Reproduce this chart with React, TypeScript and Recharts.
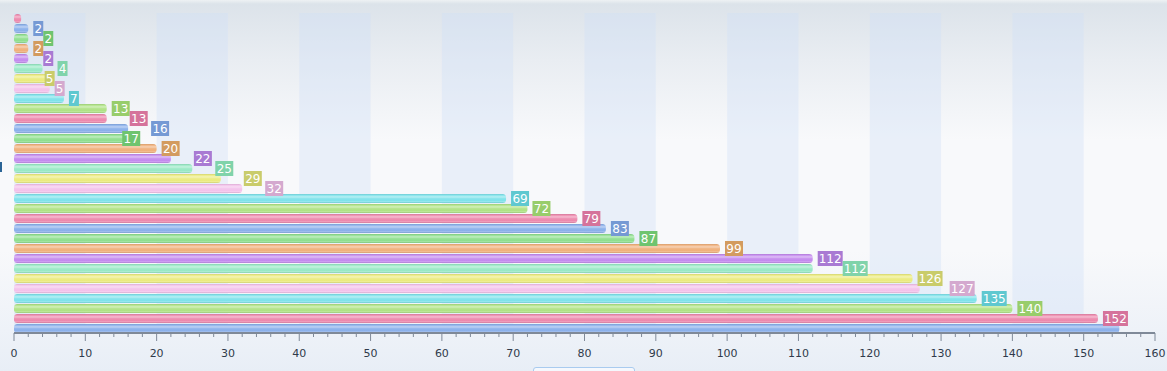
import React from "react";
import { Bar, BarChart, LabelList, ReferenceArea, XAxis, YAxis } from "recharts";

// values top to bottom
const values = [
  1, 2, 2, 2, 2, 4, 5, 5, 7, 13, 13, 16, 17, 20, 22, 25, 29, 32, 69, 72, 79, 83, 87, 99, 112, 112,
  126, 127, 135, 140, 152, 155,
];
const categories = values.map((_, i) => `Item ${i + 1}`);
const majorTicks = [0, 10, 20, 30, 40, 50, 60, 70, 80, 90, 100, 110, 120, 130, 140, 150, 160];

const barColors = [
  "#ec86ab", "#88aeea", "#8cde8c", "#efae78", "#c388ee",
  "#96e8c4", "#eaea7c", "#f3c0ea", "#7ce2ea", "#ade282",
];
const labelColors = [
  "#d5739b", "#7599d4", "#6fc46f", "#d39b5f", "#a97ad3",
  "#80d3aa", "#c9cc6b", "#d4a9cf", "#5fc8d0", "#98cd6b",
];

const rows = categories.map((name, i) => ({ name, value: values[i], idx: i }));

// minor ticks every 2 between the majors
const xTicks: number[] = [];
majorTicks.forEach((t, i) => {
  xTicks.push(t);
  const next = majorTicks[i + 1];
  if (next !== undefined) for (let m = t + 2; m < next; m += 2) xTicks.push(m);
});

// shaded columns 0-10, 20-30, ...
const bands: [number, number][] = [];
for (let i = 0; i + 1 < majorTicks.length; i += 2) bands.push([majorTicks[i], majorTicks[i + 1]]);

const AXIS = "#7f8998";
const FONT = "'DejaVu Sans', Verdana, sans-serif";

function mix(hex: string, target: string, t: number) {
  const a = parseInt(hex.slice(1), 16);
  const b = parseInt(target.slice(1), 16);
  const ch = (s: number) => {
    const ca = (a >> s) & 255;
    const cb = (b >> s) & 255;
    return Math.round(ca + (cb - ca) * t);
  };
  return `rgb(${ch(16)},${ch(8)},${ch(0)})`;
}

function labelWidth(v: number) {
  return Math.round(String(v).length * 7.3 + 3);
}

// simple top-down collision pass: normal spot, else one box to the right, else to the left
function placeLabels(k: number) {
  const out: ({ x0: number; x1: number } | null)[] = [];
  values.forEach((v, i) => {
    // first and last labels don't fit inside the plot area
    if (i === 0 || i === values.length - 1) {
      out.push(null);
      return;
    }
    const w = labelWidth(v);
    const base = v * k + 5;
    const prev = out[i - 1];
    const hits = (s: number) => !!prev && s < prev.x1 - 0.5 && s + w > prev.x0 + 0.5;
    let s = base;
    for (const c of [base, base + w, base - w]) {
      if (!hits(c)) {
        s = c;
        break;
      }
    }
    out.push({ x0: s, x1: s + w });
  });
  return out;
}

function GlossyBar(props: any) {
  const { x, y, width, height, index } = props;
  if (!width || width <= 0) return null;
  const r = Math.min(3.5, width / 2, height / 2);
  return (
    <rect x={x} y={y} width={width} height={height} rx={r} ry={r} fill={`url(#tube-${index % 10})`} />
  );
}

function renderLabel(props: any) {
  const vb = props.viewBox ?? props;
  const { x, y, width, height } = vb;
  const i = Number(props.value);
  const v = values[i];
  if (!v || !width) return null;
  const k = width / v;
  const box = placeLabels(k)[i];
  if (!box) return null;
  const cy = y + height / 2;
  const w = box.x1 - box.x0;
  return (
    <g key={`lbl-${i}`}>
      <rect x={x + box.x0} y={cy - 7.5} width={w} height={15} fill={labelColors[i % 10]} />
      <text
        x={x + box.x0 + w / 2}
        y={cy + 4.5}
        textAnchor="middle"
        fontSize={12}
        fontFamily={FONT}
        fill="#ffffff"
      >
        {v}
      </text>
    </g>
  );
}

function XTick(props: any) {
  const { x, y, payload } = props;
  const v = payload.value;
  const major = majorTicks.includes(v);
  return (
    <g>
      <line x1={x} x2={x} y1={y} y2={y + (major ? 8 : 4)} stroke={AXIS} />
      {major && (
        <text x={x} y={y + 24} textAnchor="middle" fontSize={11} fontFamily={FONT} fill="#2f3a4b">
          {v}
        </text>
      )}
    </g>
  );
}

function YTick(props: any) {
  const { x, y, payload } = props;
  const half = payload?.offset || 5;
  return <line x1={x - 11} x2={x} y1={y + half} y2={y + half} stroke={AXIS} />;
}

export default function App() {
  return (
    <div
      style={{
        position: "absolute",
        left: 0,
        top: 0,
        width: 1167,
        height: 371,
        fontFamily: FONT,
        background:
          "linear-gradient(to bottom, #eef1f4 0px, #dce3ea 4px, #e9edf2 60px, #f8f9fb 140px, #f8f9fb 250px, #eef2f8 330px, #e8eef6 371px)",
        overflow: "hidden",
      }}
    >
      <BarChart
        width={1167}
        height={371}
        data={rows}
        layout="vertical"
        margin={{ top: 13, right: 12, bottom: 8, left: 14 }}
        barSize={9}
      >
        <defs>
          {barColors.map((c, i) => (
            <linearGradient key={c} id={`tube-${i}`} x1="0" y1="0" x2="0" y2="1">
              <stop offset="0%" stopColor={mix(c, "#000000", 0.1)} />
              <stop offset="15%" stopColor={mix(c, "#ffffff", 0.1)} />
              <stop offset="32%" stopColor={mix(c, "#ffffff", 0.45)} />
              <stop offset="50%" stopColor={mix(c, "#ffffff", 0.12)} />
              <stop offset="70%" stopColor={c} />
              <stop offset="85%" stopColor={mix(c, "#ffffff", 0.2)} />
              <stop offset="100%" stopColor={mix(c, "#000000", 0.12)} />
            </linearGradient>
          ))}
        </defs>
        {bands.map(([a, b]) => (
          <ReferenceArea key={a} x1={a} x2={b} fill="#cfe0f7" fillOpacity={0.38} stroke="none" />
        ))}
        <XAxis
          type="number"
          domain={[0, 160]}
          ticks={xTicks}
          interval={0}
          height={30}
          tickSize={0}
          tickMargin={0}
          tickLine={false}
          axisLine={{ stroke: AXIS, strokeWidth: 2 }}
          tick={<XTick />}
        />
        <YAxis
          type="category"
          dataKey="name"
          width={0}
          interval={0}
          tickSize={0}
          tickMargin={0}
          tickLine={false}
          axisLine={{ stroke: AXIS, strokeWidth: 2 }}
          tick={<YTick />}
        />
        <Bar dataKey="value" isAnimationActive={false} shape={<GlossyBar />}>
          <LabelList dataKey="idx" content={renderLabel} />
        </Bar>
      </BarChart>
      <div style={{ position: "absolute", left: 0, top: 162, width: 2, height: 10, background: "#2a6496" }} />
      <div
        style={{
          position: "absolute",
          left: 533,
          top: 367,
          width: 100,
          height: 8,
          border: "1px solid #a9cbef",
          borderRadius: 3,
          background: "#f5f8fd",
        }}
      />
    </div>
  );
}
